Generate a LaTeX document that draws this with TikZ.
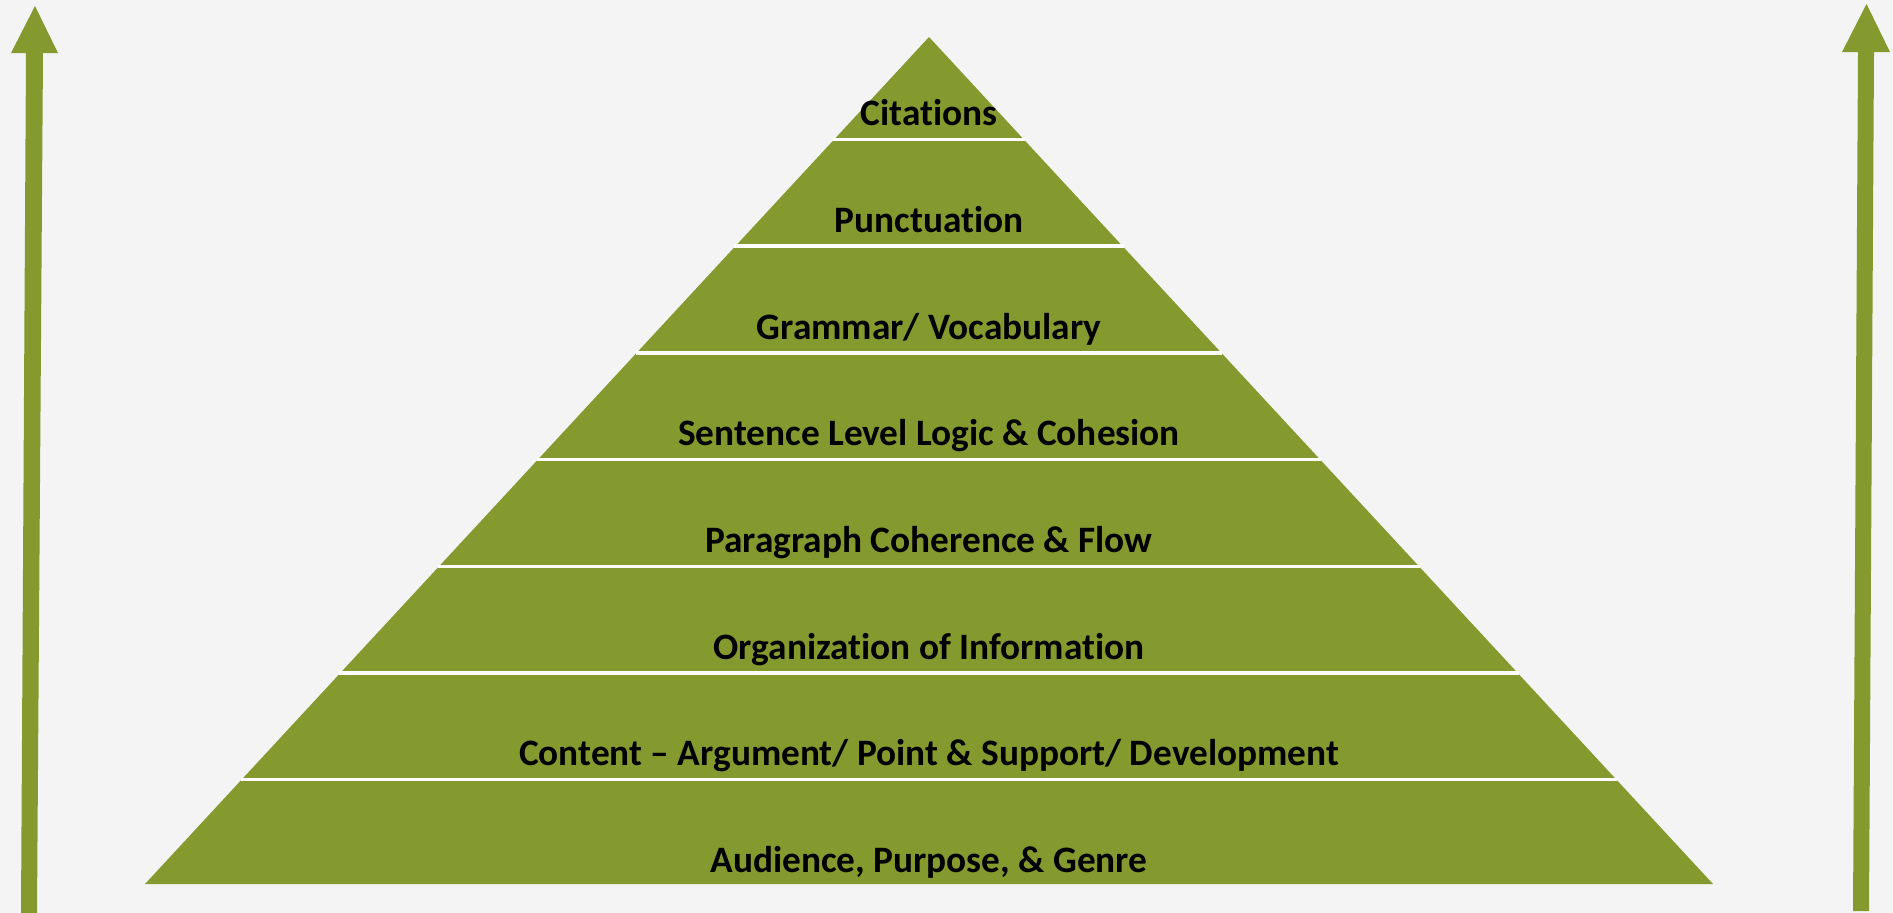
\documentclass[tikz,border=0pt]{standalone}
\usepackage{fontspec}
\setmainfont[RawFeature={-liga}]{Carlito}
\definecolor{pyrgreen}{RGB}{132,154,46}
\definecolor{bgray}{RGB}{244,244,244}
\begin{document}
\begin{tikzpicture}[x=1pt,y=-1pt,
  lvl/.style={font=\fontsize{37.3}{40}\selectfont\bfseries, text=black, anchor=base, inner sep=0pt},
  sep/.style={draw=white, line width=3.5pt},
  bigarrow/.style={fill=pyrgreen, draw=none}]
\fill[bgray] (0,0) rectangle (1893,913);
\useasboundingbox (0,0) rectangle (1893,913);
% pyramid
\fill[pyrgreen] (929,37) -- (1713,884) -- (145,884) -- cycle;
\foreach \y/\w in {139.5/94.88, 246.2/193.64, 352.9/292.40, 459.6/391.17, 566.3/489.93, 673/588.69, 779.7/687.45}{
  \draw[sep] ({929-\w-1},\y) -- ({929+\w+1},\y);
}
% labels
\node[lvl] (l1) at (929,125.8) {Citations};
\node[lvl] (l2) at (929,232.3) {Punctuation};
\node[lvl] (l3) at (929,339.1) {Grammar/ Vocabulary};
\node[lvl] (l4) at (929,445.7) {Sentence Level Logic \& Cohesion};
\node[lvl] (l5) at (929,552.4) {Paragraph Coherence \& Flow};
\node[lvl] (l6) at (929,659.1) {Organization of Information};
\node[lvl] (l7) at (929,765.8) {Content – Argument/ Point \& Support/ Development};
\node[lvl] (l8) at (929,872.7) {Audience, Purpose, \& Genre};
% arrows
\fill[bigarrow] (35,6) -- (58,53) -- (43,53) -- (37,913) -- (21,913) -- (26,53) -- (11,53) -- cycle;
\fill[bigarrow] (1866.5,4) -- (1890,52) -- (1874,52) -- (1869,911) -- (1853,911) -- (1858,52) -- (1842,52) -- cycle;
\end{tikzpicture}
\end{document}
